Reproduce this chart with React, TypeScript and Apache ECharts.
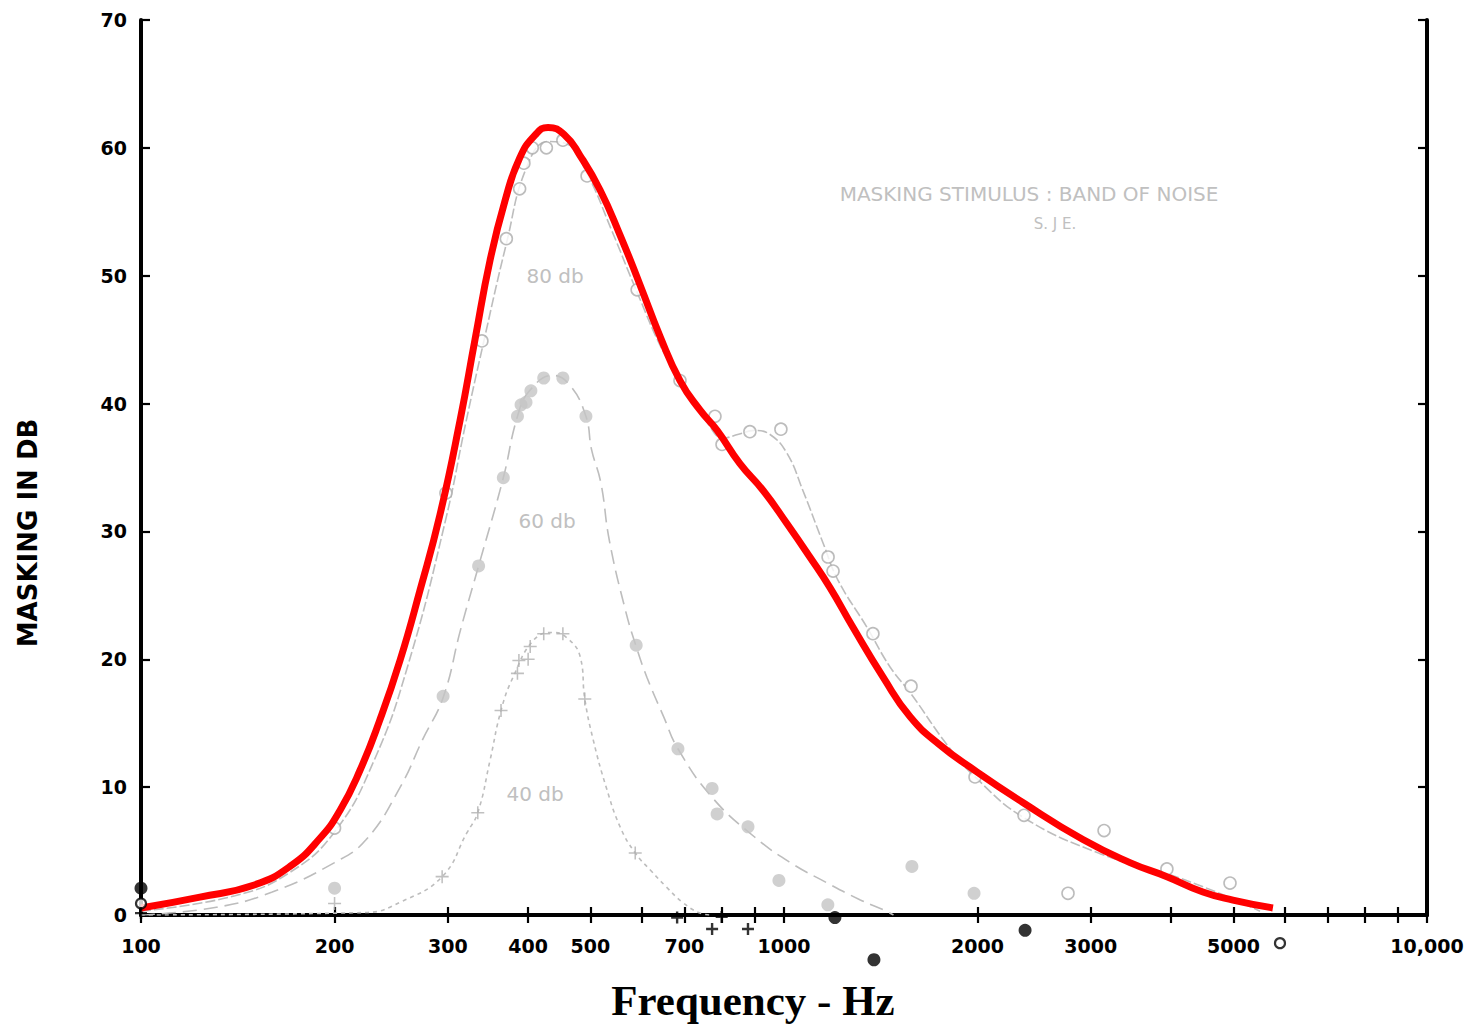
import React, { useEffect, useRef } from "react";
import * as echarts from "echarts";

// ---- tick values ----
const xTickValues = [100, 200, 300, 400, 500, 600, 700, 800, 900, 1000, 2000, 3000, 4000, 5000, 6000, 7000, 8000, 9000, 10000];
const xLabelValues = [100, 200, 300, 400, 500, 700, 1000, 2000, 3000, 5000, 10000];

// ---- red overlay curve [Hz, dB] ----
const redCurve = [
  [100, 0.55], [123.5, 1.4], [150, 2.35], [170.5, 3.8], [189.8, 6.0], [204, 8.2], [219, 11.3], [235, 15.2],
  [252.8, 19.9], [271.6, 25.4], [291.7, 31.3], [313.5, 38.7], [330.7, 45.0], [349, 51.2], [368.4, 55.9],
  [388, 59.2], [410, 61.0], [429.6, 61.6], [456, 61.0], [481.7, 59.4], [517.5, 56.7], [555.7, 53.2],
  [597, 49.3], [641, 45.3], [689, 41.8], [740, 39.5], [787, 37.9], [854, 35.3], [928, 33.2], [1011, 30.6],
  [1097, 28.0], [1179, 25.6], [1280, 22.5], [1426, 18.6], [1571, 15.5], [1748, 13.3], [1982, 11.3],
  [2352, 8.8], [2917, 5.9], [3452, 4.1], [3940, 3.0], [4483, 1.8], [4991, 1.17], [5759, 0.55],
];

// ---- grey fitted curves ----
const curve80 = [
  [100, 0.3], [140, 1.5], [170, 3.3], [200, 6.5], [230, 12], [260, 19.5], [298, 31], [320, 38.5], [340, 44.5],
  [370, 52.5], [398, 58.5], [430, 60.5], [460, 60.3], [494, 58], [540, 53.5], [591, 48.7], [650, 44],
  [707, 41], [760, 38.5], [804, 37.3], [850, 37.6], [900, 37.9], [950, 37.6], [1011, 36.1], [1070, 33.2],
  [1150, 29.1], [1213, 26.2], [1346, 22.5], [1462, 19.4], [1576, 17.3], [1800, 13.2], [1982, 10.8],
  [2362, 7.6], [3100, 4.8], [3900, 3.3], [4700, 1.8], [5500, 0.3],
];
const curve60 = [
  [100, 0], [131, 0.6], [160, 1.8], [200, 4.1], [224, 5.9], [253, 10], [274, 13.7], [295, 17], [314, 22.3],
  [335, 27.3], [366, 34.2], [385, 39], [402, 41], [437, 42.2], [465, 41.4], [492, 39], [502, 36.4],
  [519, 33.8], [535, 29.3], [567, 23.8], [589, 21], [612, 18.6], [650, 15.5], [684, 13], [773, 9.2],
  [900, 6.1], [1023, 4.1], [1168, 2.5], [1312, 1.2], [1428, 0.4], [1480, 0],
];
const curve40 = [
  [100, 0], [225, 0.2], [253, 1.0], [294, 3.0], [321, 6.4], [334, 8], [349, 12.1], [363, 16], [379, 18.6],
  [408, 21.5], [437, 22.1], [459, 21.7], [482, 20.2], [490, 16.9], [505, 13.7], [529, 10], [556, 6.9],
  [587, 4.85], [620, 3.5], [656, 2.2], [695, 1.0], [740, 0.15], [770, 0],
];

// ---- measured points ----
const points80 = [
  [200, 6.8], [298, 33.0], [339, 44.9], [370, 52.9], [388, 56.8], [394, 58.8], [406, 60.0], [427, 60.0],
  [453, 60.6], [494, 57.8], [591, 48.9], [689, 41.8], [781, 39.0], [801, 36.8], [885, 37.8], [989, 38.0],
  [1171, 28.0], [1192, 26.9], [1375, 22.0], [1576, 17.9], [1982, 10.8], [2362, 7.8], [3146, 6.6],
  [3940, 3.6], [4939, 2.5], [2765, 1.7],
];
const points60 = [
  [200, 2.1], [295, 17.1], [335, 27.3], [366, 34.2], [385, 39.0], [390, 39.9], [397, 40.1], [404, 41.0],
  [423, 42.0], [453, 42.0], [492, 39.0], [589, 21.1], [684, 13.0], [773, 9.9], [787, 7.9], [879, 6.9],
  [982, 2.7], [1170, 0.8], [1581, 3.8], [1975, 1.7],
];
const points40 = [
  [200, 0.9], [294, 3.0], [334, 8.0], [363, 16.0], [385, 18.9], [387, 19.9], [400, 20.0], [403, 21.0],
  [423, 22.0], [453, 22.0], [490, 16.9], [587, 4.85],
];
const blackDots = [[100, 2.1], [1200, -0.2], [1380, -3.5], [2371, -1.2]];
const blackRings = [[100, 0.9], [5907, -2.2]];
const blackPluses = [[100, 0.15], [682, -0.2], [773, -1.1], [800, -0.15], [879, -1.1]];

const PLUS = "path://M4.4,0h1.2v4.4h4.4v1.2h-4.4v4.4h-1.2v-4.4h-4.4v-1.2h4.4z";
const PLUS_BOLD = "path://M4,0h2v4h4v2h-4v4h-2v-4h-4v-2h4z";

export default function App() {
  const ref = useRef<HTMLDivElement>(null);
  useEffect(() => {
    document.body.style.margin = "0";
    const chart = echarts.init(ref.current!, undefined, { renderer: "svg" });
    const axisLine = { show: true, lineStyle: { color: "#000", width: 4 } };
    const xBase = {
      type: "log" as const,
      logBase: 10,
      min: 100,
      max: 10000,
      axisLine,
      splitLine: { show: false },
      minorTick: { show: false },
      axisTick: { show: true, inside: true, length: 8, customValues: xTickValues, lineStyle: { color: "#000", width: 2.2 } },
    };
    const yBase = {
      type: "value" as const,
      min: 0,
      max: 70,
      interval: 10,
      axisLine,
      splitLine: { show: false },
      axisTick: { show: true, inside: true, length: 9, lineStyle: { color: "#000", width: 2.2 } },
    };
    const greyLine = (data: number[][], type: any, width: number) => ({
      type: "line",
      data,
      smooth: 0.45,
      showSymbol: false,
      symbol: "none",
      lineStyle: { color: "#bdbdbd", width, type },
      z: 2,
      silent: true,
    });
    const greyText = (text: string, x: number, y: number, size: number) => ({
      type: "text",
      x,
      y,
      style: { text, fill: "#c0c0c0", font: `${size}px 'DejaVu Sans'`, textAlign: "center", textVerticalAlign: "middle" },
    });
    chart.setOption({
      animation: false,
      backgroundColor: "#fff",
      grid: { left: 141, right: 41, top: 20, bottom: 109 },
      xAxis: [
        {
          ...xBase,
          position: "bottom",
          axisLabel: {
            show: true,
            customValues: xLabelValues,
            margin: 21,
            color: "#000",
            fontFamily: "DejaVu Sans",
            fontWeight: "bold",
            fontSize: 19,
            formatter: (v: number) => {
              const r = Math.round(v);
              return r === 10000 ? "10,000" : String(r);
            },
          },
        },
        { ...xBase, position: "top", axisLabel: { show: false } },
      ],
      yAxis: [
        {
          ...yBase,
          position: "left",
          axisLabel: { show: true, margin: 14, color: "#000", fontFamily: "DejaVu Sans", fontWeight: "bold", fontSize: 19 },
        },
        { ...yBase, position: "right", axisLabel: { show: false } },
      ],
      series: [
        greyLine(curve80, [10, 3], 1.6),
        greyLine(curve60, [14, 7], 1.6),
        greyLine(curve40, [4, 4], 1.6),
        {
          type: "scatter",
          data: points80,
          symbol: "circle",
          symbolSize: 12,
          itemStyle: { color: "#fff", borderColor: "#ababab", borderWidth: 1.6 },
          z: 3,
        },
        {
          type: "scatter",
          data: points60,
          symbol: "circle",
          symbolSize: 13,
          itemStyle: { color: "#c4c4c4" },
          z: 3,
        },
        {
          type: "scatter",
          data: points40,
          symbol: PLUS,
          symbolSize: 13,
          itemStyle: { color: "#b0b0b0" },
          z: 3,
        },
        {
          type: "line",
          data: redCurve,
          smooth: 0.5,
          symbol: "none",
          showSymbol: false,
          lineStyle: { color: "#ff0000", width: 7, cap: "butt" },
          z: 5,
        },
        {
          type: "scatter",
          data: blackDots,
          clip: false,
          symbol: "circle",
          symbolSize: 13,
          itemStyle: { color: "#000" },
          z: 6,
        },
        {
          type: "scatter",
          data: blackRings,
          clip: false,
          symbol: "circle",
          symbolSize: 10,
          itemStyle: { color: "#fff", borderColor: "#000", borderWidth: 2.2 },
          z: 6,
        },
        {
          type: "scatter",
          data: blackPluses,
          clip: false,
          symbol: PLUS_BOLD,
          symbolSize: 12,
          itemStyle: { color: "#000" },
          z: 6,
        },
      ],
      graphic: [
        greyText("80 db", 555, 276, 20),
        greyText("60 db", 547, 521, 20),
        greyText("40 db", 535, 794, 20),
        greyText("MASKING STIMULUS : BAND OF NOISE", 1029, 194, 20),
        greyText("S. J E.", 1055, 224, 15),
        { type: "text", x: 28, y: 533, rotation: Math.PI / 2, style: { text: "MASKING IN DB", fill: "#000", font: "bold 26px 'DejaVu Sans'", textAlign: "center", textVerticalAlign: "middle" } },
        { type: "text", x: 753, y: 1000, style: { text: "Frequency - Hz", fill: "#000", font: "bold 43px 'Liberation Serif'", textAlign: "center", textVerticalAlign: "middle" } },
      ],
    });
    return () => chart.dispose();
  }, []);
  return <div ref={ref} style={{ width: 1468, height: 1024 }} />;
}
